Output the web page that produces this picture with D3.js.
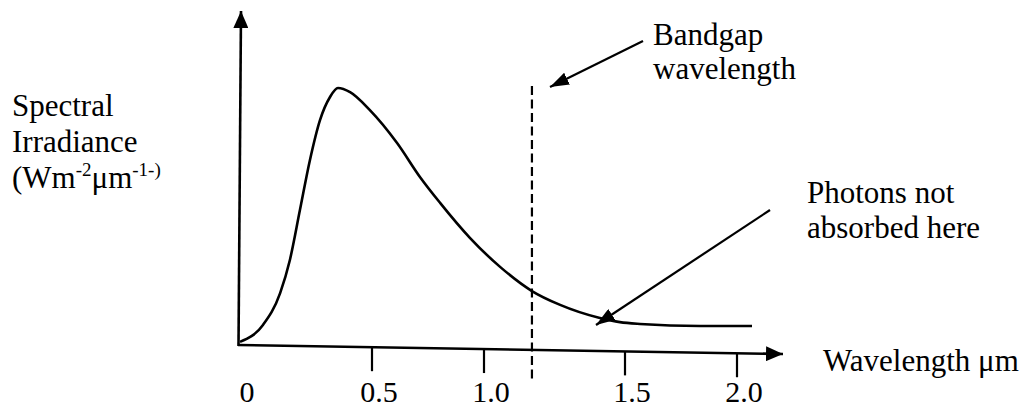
<!DOCTYPE html>
<html>
<head>
<meta charset="utf-8">
<script src="https://cdn.jsdelivr.net/npm/d3@7"></script>
<style>
  html, body { margin: 0; padding: 0; background: #fff; }
  svg { display: block; }
  text { font-family: "Liberation Serif", "Times New Roman", serif; fill: #000; }
</style>
</head>
<body>
<svg id="chart" width="1032" height="412"></svg>
<script>
// ---- data ----
const wavelength = [0.0, 0.087, 0.152, 0.189, 0.227, 0.265, 0.303, 0.341, 0.371, 0.417, 0.492,
                    0.612, 0.714, 0.804, 0.938, 1.057, 1.170, 1.270, 1.411, 1.482, 1.567, 1.835, 2.067];
const irradiance = [0.012, 0.078, 0.202, 0.331, 0.525, 0.720, 0.875, 0.965, 1.0, 0.984, 0.914,
                    0.786, 0.654, 0.553, 0.416, 0.304, 0.210, 0.156, 0.105, 0.089, 0.082, 0.074, 0.074];
const tickValues = [0, 0.5, 1.0, 1.5, 2.0];
const tickLabels = ["0", "0.5", "1.0", "1.5", "2.0"];
const bandgapWavelength = 1.17;
const bandgapLabel = ["Bandgap", "wavelength"];
const photonLabel = ["Photons not", "absorbed here"];
const xAxisTitle = "Wavelength μm";
const yAxisTitle = ["Spectral", "Irradiance"];

// ---- layout ----
const svg = d3.select("#chart");
const originX = 240, originY = 345;
// hand-drawn axis: tick spacing is not uniform
const x = d3.scaleLinear().domain(tickValues).range([240, 372, 484, 625, 737]);
const y = d3.scaleLinear().domain([0, 1]).range([originY, 88]);
const tilt = px => originY + (px - originX) * (9 / 543);
const labelBaseline = 402;

const defs = svg.append("defs");
function arrowMarker(id, len, half) {
  defs.append("marker")
    .attr("id", id)
    .attr("markerUnits", "userSpaceOnUse")
    .attr("viewBox", `0 ${-half} ${len} ${2 * half}`)
    .attr("refX", len).attr("refY", 0)
    .attr("markerWidth", len).attr("markerHeight", 2 * half)
    .attr("orient", "auto")
    .append("path")
    .attr("d", `M0,${-half}L${len},0L0,${half}Z`)
    .attr("fill", "#000");
}
arrowMarker("axisArrow", 17, 7.5);
arrowMarker("noteArrow", 19, 6.5);

// y axis line
svg.append("line")
  .attr("x1", 238.5).attr("y1", originY + 1)
  .attr("x2", 241).attr("y2", 11)
  .attr("stroke", "#000").attr("stroke-width", 2.6)
  .attr("marker-end", "url(#axisArrow)");

// x axis line (slightly tilted as drawn)
svg.append("line")
  .attr("x1", originX - 2).attr("y1", originY)
  .attr("x2", 783).attr("y2", tilt(783))
  .attr("stroke", "#000").attr("stroke-width", 2.6)
  .attr("marker-end", "url(#axisArrow)");

// x axis ticks via d3.axisBottom
const axisG = svg.append("g").attr("transform", `translate(0,${originY})`)
  .call(d3.axisBottom(x)
    .tickValues(tickValues)
    .tickFormat((d, i) => tickLabels[i])
    .tickSize(24)
    .tickPadding(11));
axisG.select(".domain").remove();
axisG.selectAll(".tick")
  .attr("transform", d => `translate(${x(d)},${tilt(x(d)) - originY})`);
axisG.selectAll(".tick line")
  .attr("stroke", "#000").attr("stroke-width", 2.2)
  .attr("display", d => d === 0 ? "none" : null);
axisG.selectAll(".tick text")
  .attr("x", 7)
  .attr("dy", null)
  .attr("y", d => labelBaseline - tilt(x(d)))
  .style("font-family", '"Liberation Serif", "Times New Roman", serif')
  .style("font-size", "30px")
  .attr("fill", "#000");

// bandgap dashed line
svg.append("line")
  .attr("x1", x(bandgapWavelength)).attr("y1", 86)
  .attr("x2", x(bandgapWavelength)).attr("y2", 379)
  .attr("stroke", "#000").attr("stroke-width", 2.2)
  .attr("stroke-dasharray", "9,4.5");

// spectrum curve
const line = d3.line()
  .x((d, i) => x(wavelength[i]))
  .y(d => y(d))
  .curve(d3.curveMonotoneX);
svg.append("path")
  .datum(irradiance)
  .attr("d", line)
  .attr("fill", "none")
  .attr("stroke", "#000")
  .attr("stroke-width", 2.6);

// annotation arrows
svg.append("line")
  .attr("x1", 643).attr("y1", 41).attr("x2", 550).attr("y2", 87)
  .attr("stroke", "#000").attr("stroke-width", 2.2)
  .attr("marker-end", "url(#noteArrow)");
svg.append("line")
  .attr("x1", 770).attr("y1", 210).attr("x2", 596).attr("y2", 325)
  .attr("stroke", "#000").attr("stroke-width", 2.2)
  .attr("marker-end", "url(#noteArrow)");

// texts
const fs = "31px";
bandgapLabel.forEach((t, i) => {
  svg.append("text").attr("x", 653).attr("y", 45 + i * 34)
    .style("font-size", fs).text(t);
});
photonLabel.forEach((t, i) => {
  svg.append("text").attr("x", 807).attr("y", 203 + i * 35)
    .style("font-size", fs).text(t);
});
svg.append("text").attr("x", 823).attr("y", 371)
  .style("font-size", fs).text(xAxisTitle);

yAxisTitle.forEach((t, i) => {
  svg.append("text").attr("x", 12).attr("y", 116 + i * 36)
    .style("font-size", fs).text(t);
});
const unit = svg.append("text").attr("x", 12).attr("y", 188).style("font-size", fs);
unit.append("tspan").text("(Wm");
unit.append("tspan").attr("dy", -12).style("font-size", "19px").text("-2");
unit.append("tspan").attr("dy", 12).text("μm");
unit.append("tspan").attr("dy", -12).style("font-size", "19px").text("-1-)");
</script>
</body>
</html>
